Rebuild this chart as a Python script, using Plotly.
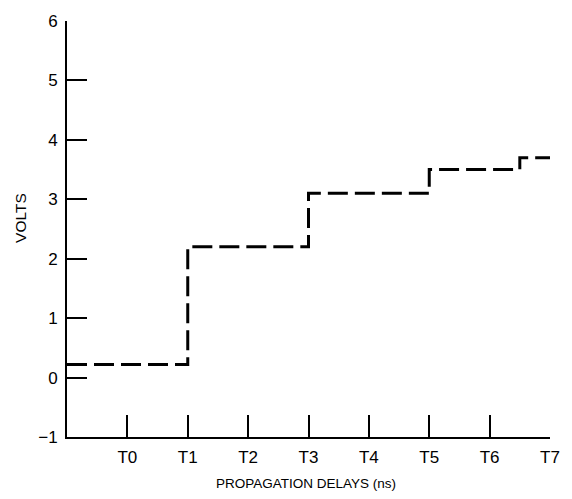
import plotly.graph_objects as go

# Step response: voltage level held between successive propagation delays
step_x = [-1, 1, 1, 3, 3, 5, 5, 6.5, 6.5, 7.05]
step_v = [0.22, 0.22, 2.2, 2.2, 3.1, 3.1, 3.5, 3.5, 3.7, 3.7]

x_tick_vals = [0, 1, 2, 3, 4, 5, 6, 7]
x_tick_text = ["T0", "T1", "T2", "T3", "T4", "T5", "T6", "T7"]
y_tick_vals = [-1, 0, 1, 2, 3, 4, 5, 6]
y_tick_text = ["\u22121", "0", "1", "2", "3", "4", "5", "6"]

font_family = "Liberation Sans Narrow, Liberation Sans, Arial, sans-serif"

fig = go.Figure()
fig.add_trace(go.Scatter(
    x=step_x, y=step_v, mode="lines",
    line=dict(color="black", width=3, dash="20px,7px"),
    showlegend=False, hoverinfo="skip", cliponaxis=False,
))

fig.update_layout(
    width=572, height=499,
    margin=dict(l=67, r=19, t=14, b=62),
    paper_bgcolor="white", plot_bgcolor="white",
    font=dict(family=font_family, size=17, color="black"),
    xaxis=dict(
        range=[-1, 7], tickmode="array", tickvals=x_tick_vals, ticktext=x_tick_text,
        ticks="inside", ticklen=22, tickwidth=2, tickcolor="black",
        tickfont=dict(size=17), ticklabelstandoff=4,
        showline=True, linewidth=2, linecolor="black",
        showgrid=False, zeroline=False,
    ),
    yaxis=dict(
        range=[-1, 6], tickmode="array", tickvals=y_tick_vals, ticktext=y_tick_text,
        ticks="inside", ticklen=20, tickwidth=2, tickcolor="black",
        tickfont=dict(size=17), ticklabelstandoff=4,
        showline=True, linewidth=2, linecolor="black",
        showgrid=False, zeroline=False,
    ),
    annotations=[
        dict(text="PROPAGATION DELAYS (ns)", xref="paper", yref="paper",
             x=0.495, y=-0.111, xanchor="center", yanchor="middle",
             showarrow=False, font=dict(size=13.5)),
        dict(text="VOLTS", xref="paper", yref="paper",
             x=-0.095, y=0.527, xanchor="center", yanchor="middle",
             textangle=-90, showarrow=False, font=dict(size=15.5)),
    ],
)

fig.write_html("out.html")
